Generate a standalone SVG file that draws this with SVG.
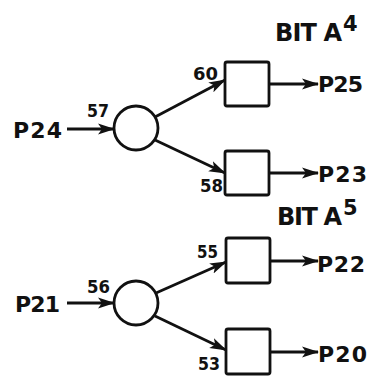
<svg xmlns="http://www.w3.org/2000/svg" width="377" height="391" viewBox="0 0 377 391">
<style>
.n{fill:#fff;stroke:#111;stroke-width:2.8}
.c{stroke:#111;stroke-width:2.8;fill:none;marker-end:url(#ah)}
.t{font-family:"DejaVu Sans","Liberation Sans",sans-serif;font-weight:bold;fill:#111}
.l{font-size:22px}
.s{font-size:18px}
.b{font-size:24px}
.sup{font-size:21px}
</style>
<defs>
<marker id="ah" viewBox="0 0 17 12" refX="16" refY="6" markerWidth="17" markerHeight="12" markerUnits="userSpaceOnUse" orient="auto">
<path d="M0,0.5 L17,6 L0,11.5 L4,6 Z" fill="#111"/>
</marker>
</defs>
<rect width="377" height="391" fill="#fff"/>
<g id="connectors">
<line class="c" x1="67" y1="129" x2="114" y2="129"/>
<line class="c" x1="155" y1="117" x2="225" y2="80"/>
<line class="c" x1="155" y1="140" x2="225" y2="173"/>
<line class="c" x1="269" y1="84" x2="318" y2="84"/>
<line class="c" x1="269" y1="173" x2="318" y2="173"/>
<line class="c" x1="67" y1="303" x2="114" y2="303"/>
<line class="c" x1="156" y1="293" x2="226" y2="262"/>
<line class="c" x1="155" y1="316" x2="226" y2="350"/>
<line class="c" x1="270" y1="261" x2="318" y2="261"/>
<line class="c" x1="270" y1="352" x2="318" y2="352"/>
</g>
<g id="label-bitA4"><text class="t b" x="275" y="41" textLength="67" lengthAdjust="spacing">BIT A</text><text class="t sup" x="343" y="31">4</text></g>
<g id="label-bitA5"><text class="t b" x="277" y="225" textLength="65" lengthAdjust="spacing">BIT A</text><text class="t sup" x="343" y="215">5</text></g>
<g id="in-P24"><text class="t l" x="13" y="138" textLength="49" lengthAdjust="spacing">P24</text></g>
<g id="node-57"><circle class="n" cx="136" cy="128" r="22"/><text class="t s" x="87" y="117" textLength="22" lengthAdjust="spacingAndGlyphs">57</text></g>
<g id="node-60"><rect class="n" x="225" y="62" width="44" height="44" rx="2"/><text class="t s" x="193" y="80" textLength="25" lengthAdjust="spacingAndGlyphs">60</text></g>
<g id="node-58"><rect class="n" x="225" y="151" width="44" height="44" rx="2"/><text class="t s" x="200" y="192" textLength="23" lengthAdjust="spacingAndGlyphs">58</text></g>
<g id="out-P25"><text class="t l" x="318" y="92" textLength="45" lengthAdjust="spacing">P25</text></g>
<g id="out-P23"><text class="t l" x="318" y="182" textLength="49" lengthAdjust="spacing">P23</text></g>
<g id="in-P21"><text class="t l" x="15" y="312" textLength="45" lengthAdjust="spacing">P21</text></g>
<g id="node-56"><circle class="n" cx="136" cy="303" r="22"/><text class="t s" x="87" y="293" textLength="23" lengthAdjust="spacingAndGlyphs">56</text></g>
<g id="node-55"><rect class="n" x="226" y="238" width="44" height="45" rx="2"/><text class="t s" x="197" y="258" textLength="21" lengthAdjust="spacingAndGlyphs">55</text></g>
<g id="node-53"><rect class="n" x="226" y="329" width="44" height="45" rx="2"/><text class="t s" x="198" y="370" textLength="22" lengthAdjust="spacingAndGlyphs">53</text></g>
<g id="out-P22"><text class="t l" x="317" y="272" textLength="48" lengthAdjust="spacing">P22</text></g>
<g id="out-P20"><text class="t l" x="318" y="362" textLength="49" lengthAdjust="spacing">P20</text></g>
</svg>
